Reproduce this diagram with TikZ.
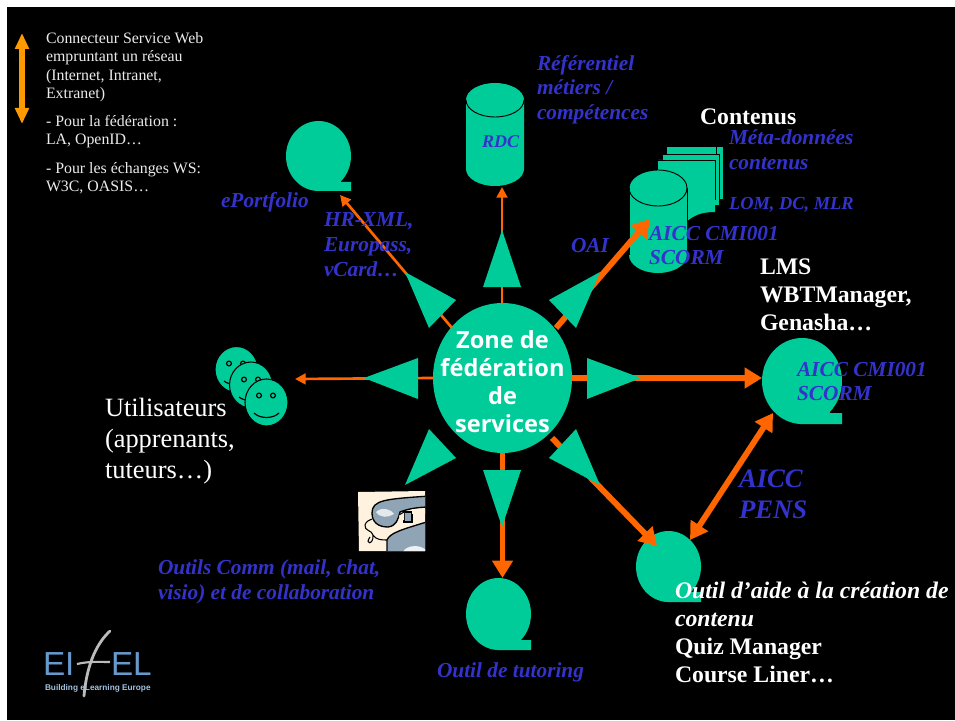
\documentclass[tikz,border=0pt]{standalone}
\usepackage{fontspec}
\setmainfont{Liberation Serif}
\newfontfamily\zonefont{Open Sans}
\newfontfamily\logofont{Liberation Sans}
\usetikzlibrary{arrows.meta,shapes.geometric,calc}
\definecolor{teal}{HTML}{00CC99}
\definecolor{orng}{HTML}{FF6600}
\definecolor{ambr}{HTML}{FF9900}
\definecolor{blu}{HTML}{3333CC}
\definecolor{logob}{HTML}{6699CC}
\definecolor{logog}{HTML}{BBBBBB}
\definecolor{crem}{HTML}{FFF3E0}
\definecolor{phon}{HTML}{8FA5B5}
\tikzset{
  lbl/.style={inner sep=0pt,outer sep=0pt,anchor=north west,align=left},
  legendtext/.style={lbl,text=white!92!black,font=\fontsize{11.9}{13.9}\selectfont},
  bluetext/.style={lbl,text=blu,font=\fontsize{16}{18.6}\selectfont\bfseries\itshape},
  bigblue/.style={lbl,text=blu,font=\fontsize{20}{23.5}\selectfont\bfseries\itshape},
  whitebold/.style={lbl,text=white,font=\fontsize{17.8}{21}\selectfont\bfseries},
  whitemix/.style={lbl,text=white,font=\fontsize{17.8}{21}\selectfont\bfseries},
  userstext/.style={lbl,text=white,font=\fontsize{19.8}{23.5}\selectfont},
  bubble/.style={ellipse,fill=teal,inner sep=0pt,outer sep=0pt},
  thinline/.style={draw=orng,line width=2pt,-{Triangle[length=8pt,width=8pt]}},
  thickline/.style={draw=orng,line width=4.4pt,-{Triangle[length=13pt,width=15pt]}},
  bothline/.style={draw=orng,line width=4.4pt,{Triangle[length=13pt,width=15pt]}-{Triangle[length=13pt,width=15pt]}},
  ray/.style={fill=teal},
  facecircle/.style={fill=teal,draw=black,line width=.8pt},
  feature/.style={draw=black,line width=.9pt},
}
\begin{document}
\begin{tikzpicture}[x=0.75pt,y=-0.75pt]
\useasboundingbox (0,0) rectangle (955,720);
\fill[white] (0,0) rectangle (955,720);
\fill[black] (7,7) rectangle (955,720);

% legend
\coordinate (lega) at (22,124);
\coordinate (legb) at (22,33);
\draw[draw=ambr,line width=3.8pt,{Triangle[length=12pt,width=10pt]}-{Triangle[length=12pt,width=10pt]}] (lega) -- (legb);
\node[legendtext] (legt1) at (46,32) {Connecteur Service Web\\empruntant un réseau\\(Internet, Intranet,\\Extranet)};
\node[legendtext] (legt2) at (46,115) {- Pour la fédération :\\LA, OpenID…};
\node[legendtext] (legt3) at (46,162) {- Pour les échanges WS:\\W3C, OASIS…};

% bubbles
\node[bubble,minimum width=65pt*.75,minimum height=70pt*.75] (port) at (318.5,156) {};
\fill[teal] (318,191) -- (351,191) -- (351,182) -- (341,182) -- (336,172) -- cycle;
\node[bubble,minimum width=80pt*.75,minimum height=86pt*.75] (lms) at (802,381) {};
\fill[teal] (800,424) -- (842,424) -- (842,413) -- (830,413) -- (825,402) -- cycle;
\node[bubble,minimum width=65pt*.75,minimum height=71pt*.75] (create) at (668.5,566.5) {};
\fill[teal] (668,602) -- (701,602) -- (701,592) -- (691,592) -- (686,582) -- cycle;
\node[bubble,minimum width=65pt*.75,minimum height=72pt*.75] (tutor) at (498.5,614) {};
\fill[teal] (498,650) -- (531,650) -- (531,640) -- (521,640) -- (516,630) -- cycle;

% RDC cylinder
\fill[teal] (466,100) -- (466,169) arc[start angle=180,end angle=0,x radius=29,y radius=17] -- (524,100) arc[start angle=360,end angle=180,x radius=29,y radius=17];
\draw[black,line width=.7pt] (466,100) arc[start angle=180,end angle=0,x radius=29,y radius=17];
\coordinate (rdcb) at (502,187);

% pages behind the content cylinder
\fill[teal] (667,147) rectangle (723,199);
\draw[black,line width=.7pt] (716,147) -- (716,199);
\fill[teal] (663,154) rectangle (719,205);
\draw[black,line width=.7pt] (663,154) -- (719,154) -- (719,205);
\fill[teal] (658,160) -- (715,160) -- (715,212) .. controls (700,212) and (694,216) .. (687,221) -- (658,221) -- cycle;
\draw[black,line width=.7pt] (658,160) -- (715,160) -- (715,200);
% content cylinder
\fill[teal] (629,188) -- (629,255) arc[start angle=180,end angle=0,x radius=29,y radius=18] -- (687,188) arc[start angle=360,end angle=180,x radius=29,y radius=18];
\draw[black,line width=.7pt] (629,188) -- (629,255);
\draw[black,line width=.7pt] (687,188) -- (687,222);
\draw[black,line width=.7pt] (658,188) ellipse[x radius=29,y radius=18];

% users
\node[ellipse,facecircle,minimum width=43pt*.75,minimum height=46pt*.75,inner sep=0pt] (user1) at (236.5,369.5) {};
\draw[feature] (229,363.5) circle[radius=2.4] (243,363.5) circle[radius=2.4];
\draw[feature] (224,381) .. controls (230,386) and (243,386) .. (249,381);
\node[ellipse,facecircle,minimum width=43pt*.75,minimum height=46pt*.75,inner sep=0pt] (user2) at (251,385) {};
\draw[feature] (244,379.5) circle[radius=2.4] (258,379.5) circle[radius=2.4];
\draw[feature] (239,397) .. controls (245,402) and (258,402) .. (264,397);
\node[ellipse,facecircle,minimum width=43pt*.75,minimum height=47pt*.75,inner sep=0pt] (user3) at (266.5,402.5) {};
\draw[feature] (259,395.5) circle[radius=2.4] (273,395.5) circle[radius=2.4];
\draw[feature] (254,413) .. controls (260,419) and (273,419) .. (279,413);

% zone
\node[ellipse,fill=teal,inner sep=0pt,outer sep=0pt,minimum width=139pt*.75,minimum height=150pt*.75] (zone) at (502.5,378) {};
\coordinate (userp) at (295,379);
\coordinate (portp) at (340,195);
\coordinate (contb) at (650,219);
\coordinate (createp) at (657,546);
\coordinate (createq) at (690,540);
\coordinate (lmsq) at (773,413);
\coordinate (zoneul) at (452,328);
\coordinate (zoneur) at (556,328);
\coordinate (zonedr) at (552,438);

% connectors
\draw[thinline] (zone.north -| rdcb) -- (rdcb);
\draw[thinline] (zoneul) -- (portp);
\draw[thinline] (zone.west) -- (userp);
\draw[thickline] (zoneur) -- (contb);
\draw[thickline] (zone.east) -- (zone.east -| lms.west);
\draw[thickline] (zone.south) -- (zone.south |- tutor.north);
\draw[thickline] (zonedr) -- (createp);
\draw[bothline] (createq) -- (lmsq);

% rays
\fill[ray] (502,230) -- (521,287) -- (483,287) -- cycle;
\fill[ray] (502,527) -- (521,470) -- (483,470) -- cycle;
\fill[ray] (641,378) -- (587,358) -- (587,399) -- cycle;
\fill[ray] (364,378) -- (418,358) -- (418,399) -- cycle;
\fill[ray] (600,272) -- (549,300) -- (576,328) -- cycle;
\fill[ray] (405,272) -- (456,300) -- (429,328) -- cycle;
\fill[ray] (600,485) -- (549,458) -- (576,429) -- cycle;
\fill[ray] (405,485) -- (456,458) -- (429,429) -- cycle;

% phone
\begin{scope}
\clip (358,492) -- (425,491) -- (425,551) -- (359,551) -- cycle;
\fill[crem] (355,488) rectangle (428,554);
\draw[black,line width=.8pt] (370,537) .. controls (364,545) and (374,545) .. (373,535) .. controls (372,530) and (364,531) .. (365,525) .. controls (366,521) and (370,520) .. (372,519) (373,535) .. controls (376,540) and (382,540) .. (387,540);
\draw[black,fill=phon,line width=1pt] (387,555) -- (387,540) .. controls (390,533) and (400,530) .. (430,521) -- (430,555) -- cycle;
\fill[white!85!phon] (415,555) ellipse[x radius=13,y radius=9];
\draw[black,fill=phon,line width=1pt] (372,513) .. controls (372,500) and (385,499) .. (430,496) -- (430,507) .. controls (415,507) and (405,510) .. (400,512) .. controls (398,520) and (396,526) .. (388,527) .. controls (378,527) and (372,522) .. (372,513) -- cycle;
\fill[white!75!phon] (376,512) .. controls (382,506) and (392,510) .. (394,514) .. controls (388,518) and (380,518) .. (376,512) -- cycle;
\draw[black,fill=phon,line width=.8pt] (404,512) rectangle (412,522);
\fill[crem] (412,509) rectangle (430,514);
\fill[crem] (399,515) -- (404,512) -- (404,520) -- (400,520) -- cycle;
\draw[black,line width=.8pt] (399,515) -- (404,512);
\end{scope}

% logo
\node[lbl,text=logob,font=\logofont\fontsize{25}{25}\selectfont] (logoa) at (43,653) {EI};
\node[lbl,text=logob,font=\logofont\fontsize{25}{25}\selectfont] (logoe) at (111,653) {EL};
\draw[logog,line width=2.1pt,line cap=round] (110,631) .. controls (98,642) and (87,662) .. (84,696);
\draw[logog,line width=1.6pt] (77,664) .. controls (90,661) and (100,662) .. (110,662);
\node[lbl,text=logob!60!white,font=\logofont\bfseries\fontsize{6.2}{6.5}\selectfont] (logoc) at (45,685) {Building eLearning Europe};

% labels
\node[bluetext] (t1) at (537,55) {Référentiel\\métiers /\\compétences};
\node[bluetext] (t2) at (482,136) {\fontsize{13.5}{15}\selectfont RDC};
\node[whitebold] (t3) at (700,109) {Contenus};
\node[bluetext] (t4) at (729,130) {Méta-données\\contenus};
\node[bluetext,font=\fontsize{13.8}{16}\selectfont\bfseries\itshape] (t5) at (729,197) {LOM, DC, MLR};
\node[bluetext] (t6) at (649,226) {AICC CMI001\\SCORM};
\node[bluetext] (t7) at (571,238) {OAI};
\node[bluetext] (t8) at (221,192) {ePortfolio};
\node[bluetext] (t9) at (324,213) {HR-XML,\\Europass,\\vCard…};
\node[whitebold] (t10) at (760,259) {LMS\\WBTManager,\\Genasha…};
\node[bluetext] (t11) at (797,362) {AICC CMI001\\SCORM};
\node[bigblue] (t12) at (739,470) {AICC\\PENS};
\node[userstext] (t13) at (105,398) {Utilisateurs\\(apprenants,\\tuteurs…)};
\node[bluetext] (t14) at (158,560) {Outils Comm (mail, chat,\\visio) et de collaboration};
\node[bluetext] (t15) at (437,663) {Outil de tutoring};
\node[whitemix] (t16) at (675,582) {\textit{Outil d’aide à la création de}\\\textit{contenu}\\Quiz Manager\\Course Liner…};
\node[inner sep=0pt,align=center,text=white,font=\zonefont\bfseries\fontsize{17.7}{21}\selectfont] (zonetxt) at ($(zone.center)+(0,4)$) {Zone de\\fédération\\de\\services};
\end{tikzpicture}
\end{document}
